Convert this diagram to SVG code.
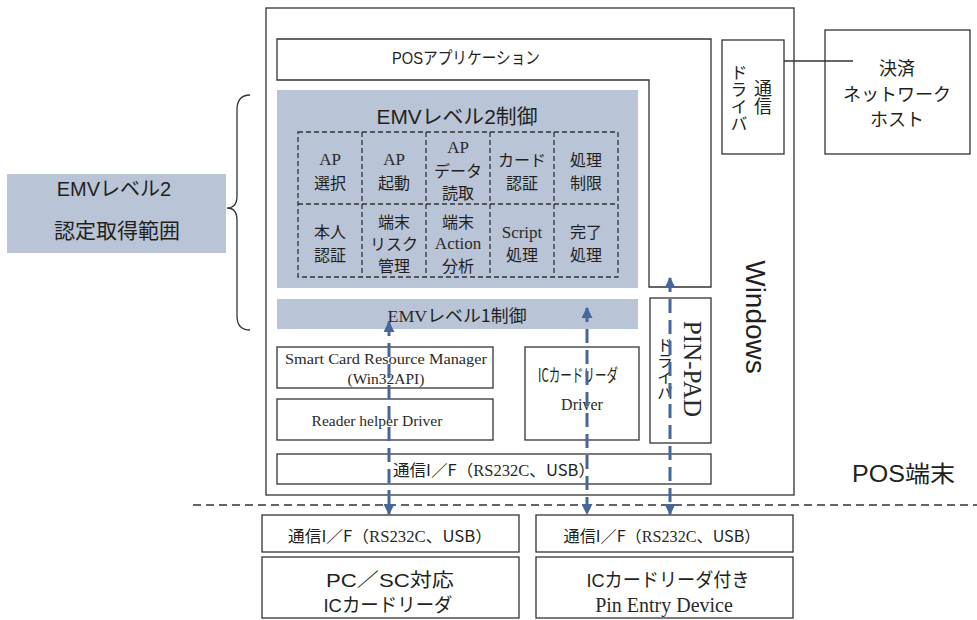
<svg xmlns="http://www.w3.org/2000/svg" width="977" height="620" viewBox="0 0 977 620">
<defs>
<style>
.bx{fill:#fff;stroke:#333;stroke-width:1.3}
.nf{fill:none;stroke:#333;stroke-width:1.3}
.bl{fill:#b9c4d6;stroke:none}
.cell{fill:none;stroke:#333;stroke-width:1.3;stroke-dasharray:5 3}
text{fill:#231f20}
.sf{fill:#2a2a2a}
.ss{font-family:"Liberation Sans","Noto Sans CJK JP",sans-serif}
.jp{font-family:"Noto Sans CJK JP","Liberation Sans",sans-serif}
.sf{font-family:"Liberation Serif","Noto Sans CJK JP",serif}
.c{text-anchor:middle}
.arr{fill:none;stroke:#46679a;stroke-width:3;stroke-dasharray:14 7;marker-start:url(#ah);marker-end:url(#ah)}
</style>
<marker id="ah" viewBox="0 0 10 10" refX="9" refY="5" markerWidth="11" markerHeight="11" markerUnits="userSpaceOnUse" orient="auto-start-reverse">
<path d="M0,0 L10,5 L0,10 Z" fill="#46679a"/>
</marker>
</defs>

<g id="pos-terminal">
<rect class="bx" x="266" y="8" width="528" height="487"/>
<text class="ss" x="852" y="482" font-size="23" textLength="103" lengthAdjust="spacingAndGlyphs">POS端末</text>
<text class="ss c" font-size="28" transform="translate(746,317) rotate(90)">Windows</text>
</g>

<g id="pos-app">
<path class="nf" d="M277,39 H711 V287 H649 V80 H277 Z" fill="#fff"/>
<text class="ss c" x="466" y="64" font-size="17" textLength="148" lengthAdjust="spacingAndGlyphs">POSアプリケーション</text>
</g>

<g id="emv-level2">
<rect class="bl" x="277" y="90" width="361" height="198"/>
<text class="ss c" x="457" y="124" font-size="20" textLength="161" lengthAdjust="spacingAndGlyphs">EMVレベル2制御</text>
<rect class="cell" x="298" y="132" width="320" height="145"/>
<path class="cell" d="M362,132 V277 M426,132 V277 M490,132 V277 M554,132 V277 M298,204 H618"/>
<g font-size="16">
<text class="sf c" x="330" y="165" font-size="17">AP</text>
<text class="jp c" x="330" y="189">選択</text>
<text class="sf c" x="394" y="165" font-size="17">AP</text>
<text class="jp c" x="394" y="189">起動</text>
<text class="sf c" x="458" y="153" font-size="17">AP</text>
<text class="jp c" x="458" y="177">データ</text>
<text class="jp c" x="458" y="199">読取</text>
<text class="jp c" x="522" y="166">カード</text>
<text class="jp c" x="522" y="189">認証</text>
<text class="jp c" x="586" y="166">処理</text>
<text class="jp c" x="586" y="189">制限</text>
<text class="jp c" x="330" y="238">本人</text>
<text class="jp c" x="330" y="261">認証</text>
<text class="jp c" x="394" y="228">端末</text>
<text class="jp c" x="394" y="250">リスク</text>
<text class="jp c" x="394" y="272">管理</text>
<text class="jp c" x="458" y="228">端末</text>
<text class="sf c" x="458" y="249" font-size="17">Action</text>
<text class="jp c" x="458" y="272">分析</text>
<text class="sf c" x="522" y="238" font-size="17">Script</text>
<text class="jp c" x="522" y="261">処理</text>
<text class="jp c" x="586" y="238">完了</text>
<text class="jp c" x="586" y="261">処理</text>
</g>
</g>

<g id="emv-level1">
<rect class="bl" x="277" y="299" width="361" height="30"/>
<text class="c" x="457" y="322" font-size="17" textLength="139" lengthAdjust="spacingAndGlyphs"><tspan class="sf">EMV</tspan><tspan class="jp">レベル1制御</tspan></text>
</g>

<g id="scrm">
<rect class="bx" x="277" y="347" width="216" height="41"/>
<text class="sf c" x="386" y="364" font-size="15.5" textLength="202" lengthAdjust="spacingAndGlyphs">Smart Card Resource Manager</text>
<text class="sf c" x="386" y="384" font-size="15.5">(Win32API)</text>
</g>

<g id="reader-helper">
<rect class="bx" x="277" y="399" width="216" height="41"/>
<text class="sf c" x="377" y="426" font-size="15.5">Reader helper Driver</text>
</g>

<g id="ic-driver">
<rect class="bx" x="525" y="347" width="114" height="93"/>
<text class="jp c" x="578" y="382" font-size="18" textLength="80" lengthAdjust="spacingAndGlyphs">ICカードリーダ</text>
<text class="sf c" x="582" y="410" font-size="16">Driver</text>
</g>

<g id="pinpad-driver">
<rect class="bx" x="650" y="298" width="61" height="145"/>
<text class="sf c" font-size="25" transform="translate(684,369) rotate(90)">PIN-PAD</text>
<text class="jp c" x="665" y="369" font-size="16" style="writing-mode:vertical-rl">ドライバ</text>
</g>

<g id="comm-if-pos">
<rect class="bx" x="277" y="454" width="434" height="30"/>
<text class="c" x="494" y="476" font-size="16" textLength="202" lengthAdjust="spacingAndGlyphs"><tspan class="jp">通信I／F（</tspan><tspan class="sf">RS232C</tspan><tspan class="jp">、USB）</tspan></text>
</g>

<g id="comm-driver">
<rect class="bx" x="722" y="40" width="62" height="114"/>
<text class="jp c" x="739" y="98" font-size="17" style="writing-mode:vertical-rl">ドライバ</text>
<text class="jp c" x="763" y="97" font-size="18" style="writing-mode:vertical-rl">通信</text>
</g>

<g id="host">
<rect class="bx" x="825" y="30" width="145" height="124"/>
<text class="jp c" x="897" y="75" font-size="18">決済</text>
<text class="jp c" x="897" y="101" font-size="18">ネットワーク</text>
<text class="jp c" x="897" y="126" font-size="18">ホスト</text>
</g>

<g id="emv2-scope">
<rect class="bl" x="7" y="174" width="219" height="79"/>
<text class="ss c" x="114" y="196" font-size="20">EMVレベル2</text>
<text class="jp c" x="117" y="238" font-size="21">認定取得範囲</text>
</g>

<g id="brace">
<path class="nf" d="M250,95 C241,95 237,100 237,110 V196 C237,204 233,208 227,208 C233,208 237,212 237,220 V316 C237,325 241,330 250,330"/>
</g>

<g id="pcsc-reader">
<rect class="bx" x="262" y="515" width="257" height="37"/>
<text class="c" x="390" y="542" font-size="16" textLength="204" lengthAdjust="spacingAndGlyphs"><tspan class="jp">通信I／F（</tspan><tspan class="sf">RS232C</tspan><tspan class="jp">、USB）</tspan></text>
<rect class="bx" x="262" y="557" width="257" height="61"/>
<text class="ss c" x="390" y="587" font-size="19" textLength="128" lengthAdjust="spacingAndGlyphs">PC／SC対応</text>
<text class="ss c" x="388" y="612" font-size="19" textLength="129" lengthAdjust="spacingAndGlyphs">ICカードリーダ</text>
</g>

<g id="pin-entry-device">
<rect class="bx" x="536" y="515" width="257" height="37"/>
<text class="c" x="662" y="542" font-size="16" textLength="197" lengthAdjust="spacingAndGlyphs"><tspan class="jp">通信I／F（</tspan><tspan class="sf">RS232C</tspan><tspan class="jp">、USB）</tspan></text>
<rect class="bx" x="536" y="557" width="257" height="61"/>
<text class="ss c" x="668" y="587" font-size="19" textLength="163" lengthAdjust="spacingAndGlyphs">ICカードリーダ付き</text>
<text class="sf c" x="664" y="612" font-size="20">Pin Entry Device</text>
</g>

<g id="connectors">
<line x1="784" y1="61" x2="853" y2="61" stroke="#333" stroke-width="1.3"/>
<line x1="193" y1="505" x2="977" y2="505" stroke="#333" stroke-width="1.5" stroke-dasharray="8 5"/>
<path class="arr" d="M389,322 V514"/>
<path class="arr" d="M587,308 V514"/>
<path class="arr" d="M670,278 V514"/>
</g>
</svg>
